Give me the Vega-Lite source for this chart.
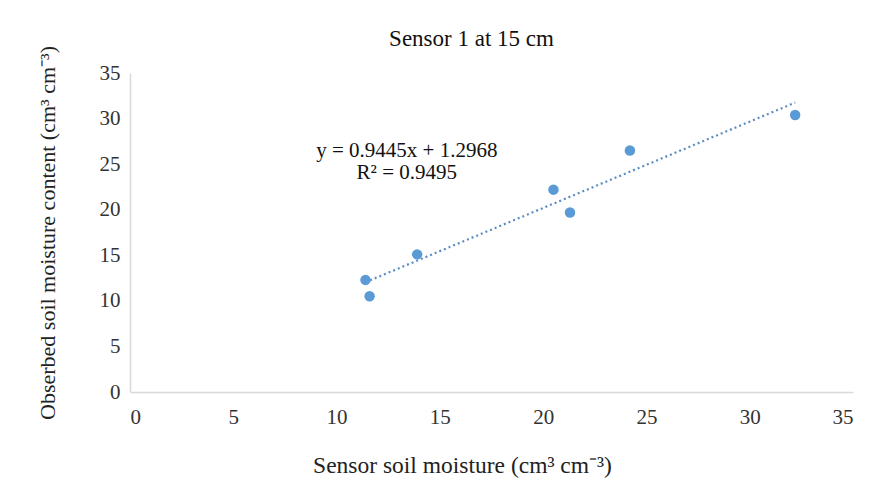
{
  "$schema": "https://vega.github.io/schema/vega-lite/v6.json",
  "width": 723,
  "height": 319,
  "autosize": "none",
  "padding": {"left": 130, "top": 73, "right": 24, "bottom": 100},
  "background": "white",
  "config": {
    "font": "Liberation Serif",
    "view": {"stroke": null},
    "style": {
      "guide-label": {"font": "Liberation Serif, Times New Roman, serif", "fontSize": 21},
      "guide-title": {"font": "Liberation Serif, Times New Roman, serif"}
    },
    "axis": {
      "grid": false,
      "ticks": false,
      "domainColor": "#D9D9D9",
      "domainWidth": 1.5,
      "labelFont": "Liberation Serif, Times New Roman, serif",
      "labelFontSize": 21,
      "labelColor": "#333333",
      "titleFont": "Liberation Serif",
      "titleFontSize": 22,
      "titleFontWeight": "normal",
      "titleColor": "#222222"
    }
  },
  "title": {
    "text": "Sensor 1 at 15 cm",
    "font": "Liberation Serif",
    "fontSize": 23,
    "fontWeight": "normal",
    "color": "#111111",
    "anchor": "middle",
    "offset": -5,
    "dx": -20
  },
  "layer": [
    {
      "data": {
        "values": [
          {"sensor": 11.4, "observed": 12.3},
          {"sensor": 11.6, "observed": 10.5},
          {"sensor": 13.9, "observed": 15.1},
          {"sensor": 20.5, "observed": 22.2},
          {"sensor": 21.3, "observed": 19.7},
          {"sensor": 24.2, "observed": 26.5},
          {"sensor": 32.2, "observed": 30.4}
        ]
      },
      "encoding": {
        "x": {
          "field": "sensor",
          "type": "quantitative",
          "scale": {"domain": [0, 35], "nice": false},
          "axis": {"values": [0, 5, 10, 15, 20, 25, 30, 35], "labelFont": "Liberation Serif, Times New Roman, serif", "labelFontSize": 21, "labelPadding": 14, "titlePadding": 26, "titleFontSize": 23.5, "titleX": 332, "title": "Sensor soil moisture (cm³ cm⁻³)"}
        },
        "y": {
          "field": "observed",
          "type": "quantitative",
          "scale": {"domain": [0, 35], "nice": false},
          "axis": {"values": [0, 5, 10, 15, 20, 25, 30, 35], "labelFont": "Liberation Serif, Times New Roman, serif", "labelFontSize": 21, "labelPadding": 10, "titlePadding": 40, "title": "Obserbed soil moisture content (cm³ cm⁻³)"}
        }
      },
      "layer": [
        {
          "transform": [{"regression": "observed", "on": "sensor"}],
          "mark": {"type": "line", "color": "#5B8DC0", "strokeWidth": 2.2, "strokeDash": [2, 3]}
        },
        {
          "mark": {"type": "point", "filled": true, "size": 110, "color": "#5B9BD5", "opacity": 1}
        }
      ]
    },
    {
      "data": {"values": [{"label": "y = 0.9445x + 1.2968\nR² = 0.9495"}]},
      "mark": {"type": "text", "fontSize": 21, "lineBreak": "\n", "align": "center", "baseline": "middle", "lineHeight": 22, "color": "#111111", "font": "Liberation Serif"},
      "encoding": {
        "x": {"datum": 13.4, "type": "quantitative"},
        "y": {"datum": 26.4, "type": "quantitative"},
        "text": {"field": "label"}
      }
    }
  ]
}
